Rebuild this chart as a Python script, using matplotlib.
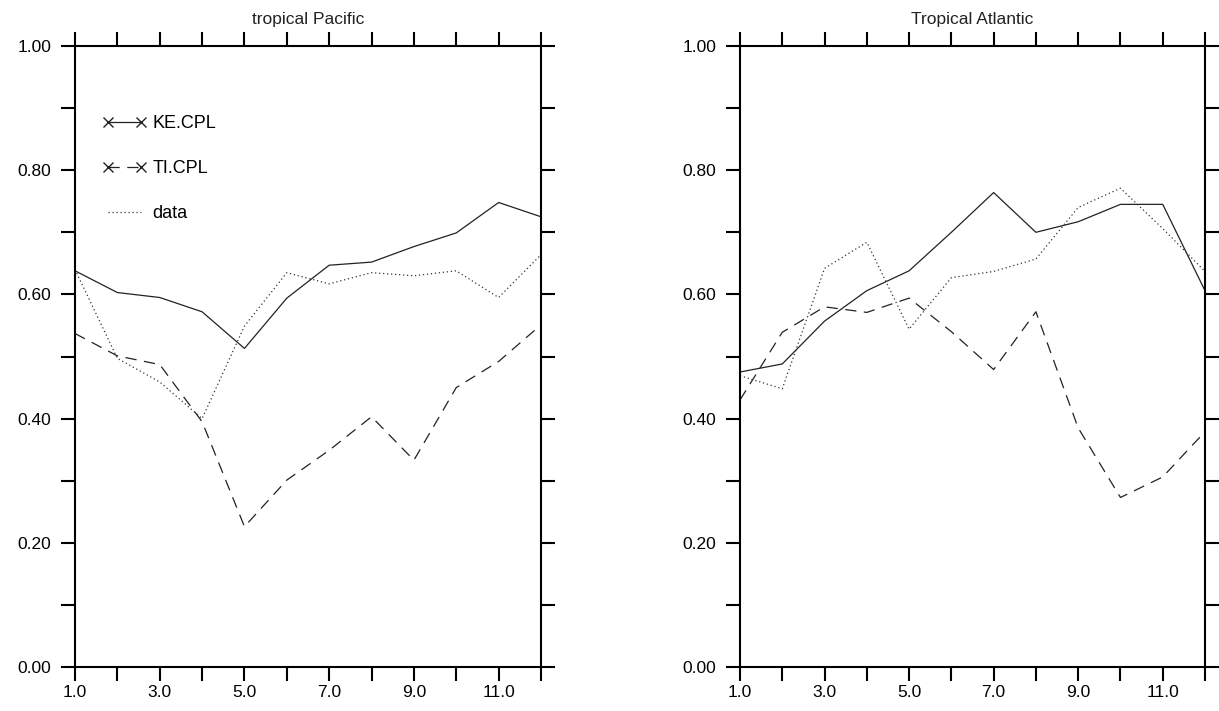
import numpy as np
import matplotlib
matplotlib.use("Agg")
import matplotlib.pyplot as plt
from matplotlib.lines import Line2D

plt.rcParams['font.family'] = ['Liberation Sans', 'DejaVu Sans']

months = np.arange(1, 13)

# tropical Pacific
pac_ke = [0.638, 0.603, 0.595, 0.572, 0.513, 0.594, 0.647, 0.652, 0.677, 0.699, 0.748, 0.725]
pac_ti = [0.537, 0.501, 0.487, 0.395, 0.226, 0.301, 0.349, 0.403, 0.333, 0.450, 0.492, 0.551]
pac_data = [0.640, 0.497, 0.459, 0.400, 0.549, 0.635, 0.617, 0.635, 0.630, 0.638, 0.595, 0.664]

# Tropical Atlantic
atl_ke = [0.475, 0.488, 0.557, 0.606, 0.638, 0.700, 0.764, 0.700, 0.717, 0.745, 0.745, 0.606]
atl_ti = [0.430, 0.539, 0.580, 0.571, 0.594, 0.540, 0.479, 0.572, 0.385, 0.273, 0.306, 0.379]
atl_data = [0.469, 0.448, 0.642, 0.684, 0.544, 0.627, 0.637, 0.657, 0.740, 0.771, 0.706, 0.637]

titles = ["tropical Pacific", "Tropical Atlantic"]
labels = ["KE.CPL", "TI.CPL", "data"]

solid = dict(color='#222222', lw=0.9, ls='-')
dashed = dict(color='#222222', lw=0.9, ls=(0, (9, 6)))
dotted = dict(color='#333333', lw=0.9, ls=(0, (1, 2.2)))

fig = plt.figure(figsize=(12.19, 7.11), dpi=100)
ax1 = fig.add_axes([75 / 1219, 44 / 711, 466 / 1219, 621 / 711])
ax2 = fig.add_axes([740 / 1219, 44 / 711, 465 / 1219, 621 / 711])

for ax, title, ke, ti, dat in [(ax1, titles[0], pac_ke, pac_ti, pac_data),
                               (ax2, titles[1], atl_ke, atl_ti, atl_data)]:
    ax.plot(months, ke, **solid)
    ax.plot(months, ti, **dashed)
    ax.plot(months, dat, **dotted)
    ax.set_xlim(1, 12)
    ax.set_ylim(0, 1)
    ax.set_xticks(months)
    ax.set_xticklabels(["%.1f" % m if m % 2 == 1 else "" for m in months])
    ax.set_yticks(np.arange(0, 1.01, 0.1))
    ax.set_yticklabels(["%.2f" % v if round(v * 10) % 2 == 0 else "" for v in np.arange(0, 1.01, 0.1)])
    ax.tick_params(direction='out', length=10, width=1.5, labelsize=12.5,
                   top=True, right=True, pad=7)
    ax.tick_params(axis='x', pad=3)
    for s in ax.spines.values():
        s.set_linewidth(1.5)
    ax.set_title(title, fontsize=12.5, pad=16, color='#222222')

handles = [Line2D([], [], marker='x', markersize=7, markeredgewidth=1, **solid),
           Line2D([], [], marker='x', markersize=7, markeredgewidth=1, **dashed),
           Line2D([], [], **dotted)]
ax1.legend(handles, labels, loc='upper left', bbox_to_anchor=(0.025, 0.915),
           frameon=False, numpoints=2, handlelength=2.4, handletextpad=0.35,
           labelspacing=1.55, fontsize=13)

fig.savefig("out.png", dpi=100)
